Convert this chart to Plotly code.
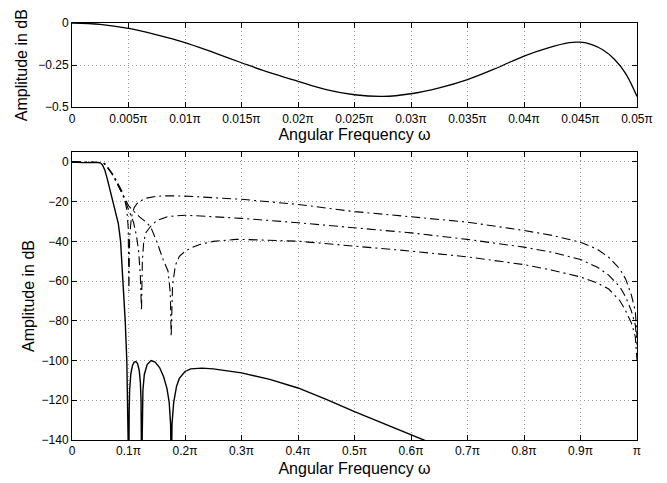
import plotly.graph_objects as go
from plotly.subplots import make_subplots

# ---------------- data (frequency in units of pi, amplitude in dB) ----------------
# top panel: passband detail of the overall filter
pb_w = [0.0, 0.0025, 0.005, 0.0075, 0.01, 0.0125, 0.015, 0.0175, 0.02, 0.0225, 0.025,
        0.0275, 0.03, 0.0325, 0.035, 0.0375, 0.04, 0.042, 0.044, 0.045, 0.046, 0.047,
        0.048, 0.049, 0.05]
pb_db = [0.0, -0.008, -0.032, -0.07, -0.116, -0.175, -0.236, -0.295, -0.346, -0.395, -0.426,
         -0.436, -0.42, -0.385, -0.336, -0.27, -0.196, -0.15, -0.116, -0.114, -0.128, -0.16,
         -0.215, -0.3, -0.436]

# bottom panel: overall filter (solid)
sol_w = [0.0, 0.02, 0.04, 0.05, 0.054, 0.058, 0.062, 0.066, 0.07, 0.074, 0.078, 0.082,
         0.086, 0.0906, 0.0942, 0.097, 0.099, 0.1005,
         0.1012, 0.102, 0.104, 0.107, 0.11, 0.113, 0.116, 0.119, 0.121, 0.1222, 0.1232,
         0.1242, 0.1255, 0.128, 0.133, 0.14, 0.147, 0.155, 0.162, 0.168, 0.172, 0.1745, 0.1758,
         0.177, 0.18, 0.185, 0.19, 0.2, 0.21, 0.23, 0.25, 0.3, 0.35, 0.4, 0.45, 0.5, 0.55,
         0.6, 0.65, 0.7]
sol_db = [0.0, -0.35, -0.2, -0.44, -1.5, -4.0, -8.0, -12.5, -16.5, -20.5, -25.0, -31.0,
          -40.0, -60.0, -80.0, -100.0, -121.0, -160.0,
          -125.0, -115.0, -107.0, -102.5, -100.8, -100.5, -101.5, -105.0, -111.0, -120.0, -160.0,
          -125.0, -115.0, -107.0, -102.0, -100.0, -100.8, -103.5, -108.0, -114.0, -121.0, -132.0, -160.0,
          -132.0, -121.0, -113.0, -109.0, -105.5, -104.2, -103.8, -104.2, -106.2, -109.5, -113.8,
          -119.5, -125.7, -131.5, -137.5, -143.0, -149.0]

# bottom panel: three dash-dot responses
a_w = [0.0, 0.05, 0.055, 0.06, 0.065, 0.07, 0.076, 0.082, 0.088, 0.093, 0.097, 0.0995, 0.1007,
       0.102, 0.105, 0.11, 0.115, 0.12, 0.13, 0.15, 0.17, 0.2, 0.25, 0.3, 0.4, 0.47, 0.5, 0.6,
       0.7, 0.8, 0.85, 0.9, 0.93, 0.95, 0.97, 0.98, 0.99, 0.997, 1.0]
a_db = [0.0, 0.0, -0.3, -1.5, -3.2, -5.3, -8.0, -11.0, -14.5, -18.5, -24.0, -33.0, -65.0,
        -38.0, -28.0, -23.0, -21.0, -19.8, -18.3, -17.3, -17.0, -17.2, -18.0, -18.8, -21.4,
        -24.0, -25.0, -27.6, -30.3, -34.5, -37.0, -40.4, -44.0, -48.0, -54.0, -59.0, -67.0,
        -75.0, -88.0]

b_w = [0.0, 0.05, 0.055, 0.06, 0.065, 0.07, 0.076, 0.082, 0.088, 0.094, 0.1, 0.105, 0.109,
       0.114, 0.118, 0.121, 0.123, 0.1245, 0.127, 0.131, 0.139, 0.15, 0.17, 0.2, 0.25, 0.3,
       0.4, 0.47, 0.5, 0.6, 0.7, 0.8, 0.85, 0.9, 0.93, 0.95, 0.97, 0.98, 0.99, 0.997, 1.0]
b_db = [0.0, 0.0, -0.3, -1.6, -3.4, -5.6, -8.5, -11.8, -15.5, -19.5, -24.0, -27.5, -30.5,
        -37.0, -45.0, -57.6, -75.0, -50.0, -40.0, -35.5, -32.5, -29.5, -27.5, -26.8, -27.5,
        -28.4, -30.6, -32.3, -33.0, -35.7, -39.0, -42.9, -45.5, -49.1, -53.0, -57.0, -63.0,
        -68.0, -75.0, -82.0, -92.0]

c_w = [0.0, 0.05, 0.055, 0.06, 0.065, 0.07, 0.076, 0.082, 0.088, 0.094, 0.1, 0.11, 0.12,
       0.13, 0.139, 0.15, 0.161, 0.17, 0.174, 0.1755, 0.178, 0.183, 0.19, 0.2, 0.213, 0.226,
       0.25, 0.29, 0.3, 0.4, 0.47, 0.5, 0.6, 0.7, 0.8, 0.85, 0.9, 0.93, 0.95, 0.97, 0.98,
       0.99, 0.997, 1.0]
c_db = [0.0, 0.0, -0.3, -1.6, -3.4, -5.7, -8.7, -12.0, -15.8, -19.0, -22.0, -25.0, -27.8,
        -30.0, -32.6, -40.0, -49.0, -55.0, -66.0, -88.0, -62.0, -52.0, -47.5, -45.0, -43.0,
        -41.6, -40.0, -39.0, -39.0, -39.9, -41.6, -42.4, -44.9, -47.8, -51.7, -54.5, -57.9,
        -61.0, -64.0, -70.0, -75.0, -81.0, -88.0, -100.0]

top_tickvals = [0, 0.005, 0.01, 0.015, 0.02, 0.025, 0.03, 0.035, 0.04, 0.045, 0.05]
top_ticktext = ["0", "0.005π", "0.01π", "0.015π", "0.02π", "0.025π", "0.03π",
                "0.035π", "0.04π", "0.045π", "0.05π"]
top_yvals = [0, -0.25, -0.5]
top_ytext = ["0", "−0.25", "−0.5"]
bot_tickvals = [0, 0.1, 0.2, 0.3, 0.4, 0.5, 0.6, 0.7, 0.8, 0.9, 1.0]
bot_ticktext = ["0", "0.1π", "0.2π", "0.3π", "0.4π", "0.5π", "0.6π", "0.7π",
                "0.8π", "0.9π", "π"]
bot_yvals = [0, -20, -40, -60, -80, -100, -120, -140]

x_title = "Angular Frequency ω"
y_title = "Amplitude in dB"

# ---------------- figure ----------------
FONT = "Liberation Sans, Arial, Helvetica, sans-serif"
fig = make_subplots(rows=2, cols=1)

fig.add_trace(go.Scatter(x=pb_w, y=pb_db, mode="lines", line=dict(color="black", width=1.3,
                                                                   shape="spline"),
                         showlegend=False), row=1, col=1)
dd = "9px,4px,2px,4px"
for w, d in [(a_w, a_db), (b_w, b_db), (c_w, c_db)]:
    fig.add_trace(go.Scatter(x=w, y=d, mode="lines",
                             line=dict(color="black", width=1.1, dash=dd),
                             showlegend=False), row=2, col=1)
fig.add_trace(go.Scatter(x=sol_w, y=sol_db, mode="lines", line=dict(color="black", width=1.4),
                         showlegend=False), row=2, col=1)

axis_common = dict(
    showline=True, linecolor="black", linewidth=1, mirror="ticks",
    ticks="inside", ticklen=5, tickcolor="black",
    showgrid=True, gridcolor="#9a9a9a", griddash="1px,3px", gridwidth=1,
    zeroline=False, tickfont=dict(family=FONT, size=12, color="black"),
    automargin=False,
)

fig.update_xaxes(**axis_common)
fig.update_yaxes(**axis_common)

# the page body adds an 8px offset, so the figure is sized to fit the window
fig.update_layout(
    width=659, height=475,
    margin=dict(l=64, r=30, t=15, b=43),
    paper_bgcolor="white", plot_bgcolor="white",
    font=dict(family=FONT, size=12, color="black"),
    xaxis=dict(domain=[0, 1], range=[0, 0.05], tickvals=top_tickvals, ticktext=top_ticktext,
               anchor="y",
               title=dict(text=x_title, font=dict(size=16), standoff=4)),
    yaxis=dict(domain=[0.798, 1.0], range=[-0.5, 0], tickvals=top_yvals, ticktext=top_ytext,
               anchor="x",
               title=dict(text=y_title, font=dict(size=16), standoff=6)),
    xaxis2=dict(domain=[0, 1], range=[0, 1.0], tickvals=bot_tickvals, ticktext=bot_ticktext,
                anchor="y2",
                title=dict(text=x_title, font=dict(size=16), standoff=5)),
    yaxis2=dict(domain=[0, 0.6906], range=[-140, 5], tickvals=bot_yvals,
                anchor="x2",
                title=dict(text=y_title, font=dict(size=16), standoff=2)),
)

fig.write_html("out.html")
